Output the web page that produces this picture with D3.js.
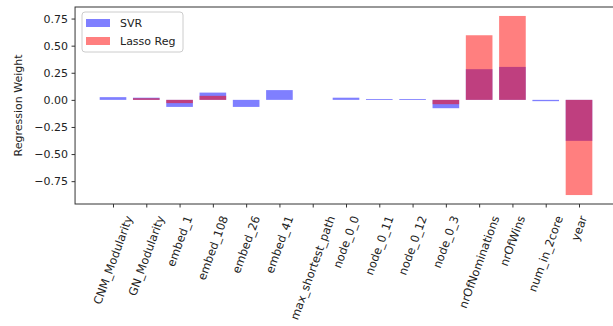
<!DOCTYPE html>
<html>
<head>
<meta charset="utf-8">
<script src="https://cdn.jsdelivr.net/npm/d3@7"></script>
<style>
  html, body { margin: 0; padding: 0; background: #fff; }
  svg { display: block; font-family: "DejaVu Sans", sans-serif; }
</style>
</head>
<body>
<svg id="chart" width="613" height="326"></svg>
<script>
// Feature names on the x axis
const features = [
  "CNM_Modularity", "GN_Modularity", "embed_1", "embed_108", "embed_26",
  "embed_41", "max_shortest_path", "node_0_0", "node_0_11", "node_0_12",
  "node_0_3", "nrOfNominations", "nrOfWins", "num_in_2core", "year"
];
// Regression weights per model
const svrWeights = [
  0.025, 0.02, -0.065, 0.067, -0.065,
  0.09, 0.0, 0.02, 0.008, 0.008,
  -0.077, 0.283, 0.304, -0.012, -0.378
];
const lassoWeights = [
  0.0, 0.015, -0.03, 0.037, 0.0,
  0.0, 0.0, 0.0, 0.0, 0.0,
  -0.04, 0.596, 0.774, 0.0, -0.878
];
const yTicks = [0.75, 0.5, 0.25, 0.0, -0.25, -0.5, -0.75];
const seriesNames = ["SVR", "Lasso Reg"];
const seriesColors = ["blue", "red"];

const svg = d3.select("#chart");
const plot = { left: 76, top: 7, bottom: 204 };
const barWidth = 0.8;

// x limits follow the usual bar-chart autoscale: bar extents plus 5% margin
const xLo = -barWidth / 2, xHi = features.length - 1 + barWidth / 2;
const xPad = (xHi - xLo) * 0.05;
const x = d3.scaleLinear()
  .domain([xLo - xPad, xHi + xPad])
  .range([75.05, 616.95]);

const allVals = svrWeights.concat(lassoWeights, [0]);
const yLo = d3.min(allVals), yHi = d3.max(allVals);
const yPad = (yHi - yLo) * 0.05;
const y = d3.scaleLinear()
  .domain([yLo - yPad, yHi + yPad])
  .range([plot.bottom, plot.top]);

const fmt = v => (v < 0 ? "\u2212" : "") + Math.abs(v).toFixed(2);

// Bars: SVR first, Lasso drawn on top, both half transparent
[svrWeights, lassoWeights].forEach((vals, s) => {
  svg.append("g")
    .selectAll("rect")
    .data(vals)
    .join("rect")
    .attr("x", (d, i) => x(i - barWidth / 2))
    .attr("width", x(barWidth) - x(0))
    .attr("y", d => y(Math.max(d, 0)))
    .attr("height", d => Math.abs(y(d) - y(0)))
    .attr("fill", seriesColors[s])
    .attr("fill-opacity", 0.5);
});

// Y axis
const yAxis = svg.append("g")
  .attr("transform", `translate(${x.range()[0]},0)`)
  .call(d3.axisLeft(y).tickValues(yTicks).tickFormat(fmt).tickSize(3.5).tickPadding(3.5));
yAxis.select(".domain").remove();
yAxis.selectAll(".tick line").attr("stroke", "#333");
yAxis.selectAll(".tick text")
  .attr("font-size", 11).attr("fill", "#222")
  .attr("font-family", "DejaVu Sans, sans-serif");

// X axis ticks
const xAxis = svg.append("g")
  .attr("transform", `translate(0,${plot.bottom})`)
  .call(d3.axisBottom(x).tickValues(d3.range(features.length)).tickFormat("").tickSize(3.5));
xAxis.select(".domain").remove();
xAxis.selectAll(".tick line").attr("stroke", "#333");

// Rotated tick labels (70 degrees), centered horizontally on each tick
const ang = 70 * Math.PI / 180;
const labelSize = 11.5;
const fontH = labelSize * 1.1;
const labels = svg.append("g").selectAll("text")
  .data(features)
  .join("text")
  .attr("font-size", labelSize)
  .attr("fill", "#222")
  .attr("text-anchor", "middle")
  .attr("dy", "0.35em")
  .text(d => d);
labels.each(function(d, i) {
  const L = this.getComputedTextLength();
  const h = L * Math.sin(ang) + fontH * Math.cos(ang);
  const cy = plot.bottom + 10 + h / 2;
  d3.select(this).attr("transform", `translate(${x(i)},${cy}) rotate(-70)`);
});

// Spines
const [x0, x1] = x.range();
svg.append("rect")
  .attr("x", x0).attr("y", plot.top)
  .attr("width", x1 - x0).attr("height", plot.bottom - plot.top)
  .attr("fill", "none").attr("stroke", "#333").attr("stroke-width", 1);

// Y axis title
svg.append("text")
  .attr("transform", `translate(18,${(plot.top + plot.bottom) / 2}) rotate(-90)`)
  .attr("text-anchor", "middle")
  .attr("dy", "0.35em")
  .attr("font-size", 11)
  .attr("fill", "#222")
  .text("Regression Weight");

// Legend
const lg = svg.append("g").attr("transform", `translate(82,12)`);
lg.append("rect")
  .attr("width", 101).attr("height", 40).attr("rx", 3)
  .attr("fill", "#fff").attr("fill-opacity", 0.8)
  .attr("stroke", "#ccc");
seriesNames.forEach((name, s) => {
  const row = lg.append("g").attr("transform", `translate(0,${11 + s * 18})`);
  row.append("rect")
    .attr("x", 4).attr("y", -4).attr("width", 24).attr("height", 8)
    .attr("fill", seriesColors[s]).attr("fill-opacity", 0.5);
  row.append("text")
    .attr("x", 38).attr("dy", "0.35em")
    .attr("font-size", 11).attr("fill", "#222")
    .text(name);
});
</script>
</body>
</html>
